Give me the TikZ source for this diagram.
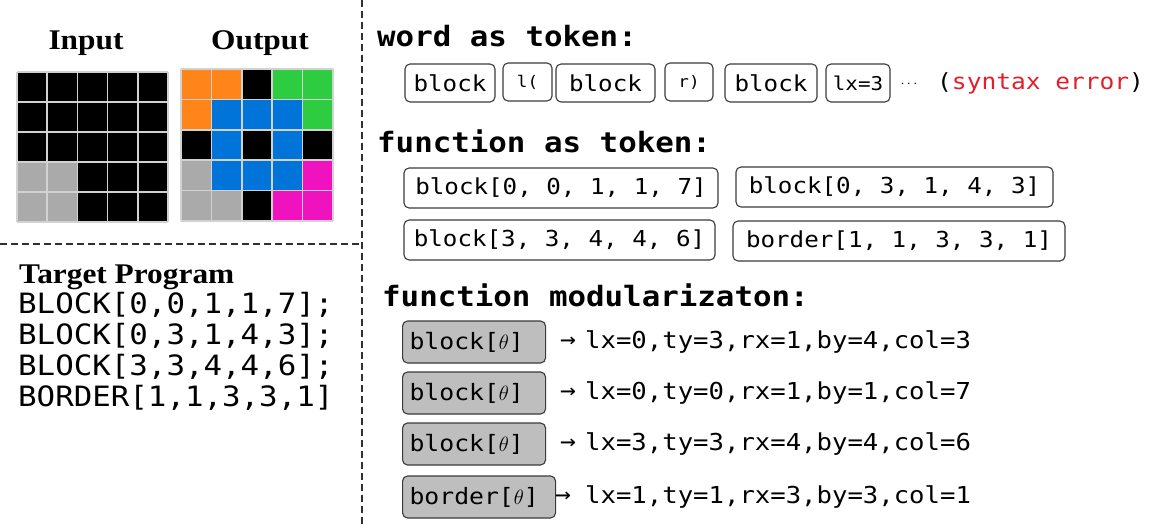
\documentclass[tikz,border=0pt]{standalone}
\usepackage{fontspec}
\setmainfont{Liberation Serif}[FakeStretch=1.1]
\newfontfamily\monof{DejaVu Sans Mono}[FakeStretch=1.1]
\definecolor{gK}{HTML}{000000}
\definecolor{gO}{HTML}{FF851B}
\definecolor{gB}{HTML}{0074D9}
\definecolor{gG}{HTML}{2ECC40}
\definecolor{gM}{HTML}{F012BE}
\definecolor{gY}{HTML}{AAAAAA}
\definecolor{gridc}{HTML}{D2D2D2}
\definecolor{boxc}{HTML}{3A3A3A}
\definecolor{modfill}{HTML}{BEBEBE}
\definecolor{errred}{HTML}{E0202A}
\definecolor{dashc}{HTML}{303030}
\begin{document}
\begin{tikzpicture}[x=1pt,y=-1pt,
  gl/.style={draw=gridc,line width=1.6pt},
  sep/.style={draw=dashc,line width=1.8pt,dash pattern=on 7pt off 4pt},
  ttl/.style={font=\bfseries\fontsize{28.5}{28.5}\selectfont},
  prog/.style={anchor=base west,inner sep=0pt,font=\monof\fontsize{28}{28}\selectfont},
  head/.style={anchor=base west,inner sep=0pt,font=\monof\bfseries\fontsize{28}{28}\selectfont},
  tok/.style={draw=boxc,line width=1.1pt,rounded corners=5pt,inner sep=0pt,minimum height=38pt,font=\monof\fontsize{22}{22}\selectfont},
  smalltok/.style={font=\monof\fontsize{16}{16}\selectfont},
  modbox/.style={draw=boxc,fill=modfill,line width=1.1pt,rounded corners=5pt,inner xsep=7pt,inner ysep=0pt,minimum height=42pt,align=left,anchor=west,font=\monof\fontsize{22.5}{22.5}\selectfont},
  arr/.style={anchor=west,inner sep=0pt,font=\monof\fontsize{24}{24}\selectfont},
  modtxt/.style={anchor=west,inner sep=0pt,font=\monof\fontsize{23.3}{23.3}\selectfont}]
\useasboundingbox (0,0) rectangle (1158,527);
% ---------- grids ----------
\foreach \c [count=\i from 0] in {gK,gK,gK,gK,gK, gK,gK,gK,gK,gK, gK,gK,gK,gK,gK, gY,gY,gK,gK,gK, gY,gY,gK,gK,gK}{
  \pgfmathtruncatemacro\cx{mod(\i,5)}
  \pgfmathtruncatemacro\cy{\i/5}
  \fill[\c] (17+\cx*30.2,72+\cy*30) rectangle ++(30.2,30);
}
\foreach \k in {0,...,5}{
  \draw[gl] (17+\k*30.2,72) -- (17+\k*30.2,222);
  \draw[gl] (17,72+\k*30) -- (168,72+\k*30);
}
\foreach \c [count=\i from 0] in {gO,gO,gK,gG,gG, gO,gB,gB,gB,gG, gK,gB,gK,gB,gK, gY,gB,gB,gB,gM, gY,gY,gK,gM,gM}{
  \pgfmathtruncatemacro\cx{mod(\i,5)}
  \pgfmathtruncatemacro\cy{\i/5}
  \fill[\c] (181+\cx*30.4,69+\cy*30.4) rectangle ++(30.4,30.4);
}
\foreach \k in {0,...,5}{
  \draw[gl] (181+\k*30.4,69) -- (181+\k*30.4,221);
  \draw[gl] (181,69+\k*30.4) -- (333,69+\k*30.4);
}
\node[ttl,anchor=base] (inp) at (86,50) {Input};
\node[ttl,anchor=base] (outp) at (260,50) {Output};
% ---------- separators ----------
\coordinate (vt) at (362,0);
\coordinate (vb) at (362,527);
\coordinate (hl) at (0,244);
\coordinate (hr) at (362,244);
\draw[sep] (vt) -- (vb);
\draw[sep] (hl) -- (hr);
% ---------- target program ----------
\node[ttl,anchor=base west,inner sep=0pt] (tp) at (19,283) {Target Program};
\node[prog] (p1) at (18,313) {BLOCK[0,0,1,1,7];};
\node[prog] (p2) at (18,344) {BLOCK[0,3,1,4,3];};
\node[prog] (p3) at (18,375) {BLOCK[3,3,4,4,6];};
\node[prog] (p4) at (18,406) {BORDER[1,1,3,3,1]};
% ---------- word as token ----------
\node[head] (h1) at (377,47) {word as token:};
\node[tok,minimum width=90pt] (w1) at (450,83) {block};
\node[tok,smalltok,minimum width=49pt] (w2) at (527.5,82) {l(};
\node[tok,minimum width=99pt] (w3) at (605.5,83) {block};
\node[tok,smalltok,minimum width=48pt] (w4) at (689,82) {r)};
\node[tok,minimum width=92pt] (w5) at (771,83) {block};
\node[tok,minimum width=64pt,font=\monof\fontsize{19}{19}\selectfont] (w6) at (858,83) {lx=3};
\node[inner sep=0pt] (dots) at (909,84) {\fontsize{15}{15}\selectfont$\cdots$};
\node[anchor=west,inner sep=0pt,font=\monof\fontsize{22.3}{22.3}\selectfont] (se) at (937,83) {(\textcolor{errred}{syntax error})};
% ---------- function as token ----------
\node[head] (h2) at (377,152) {function as token:};
\node[tok,minimum width=314pt,minimum height=40pt] (f1) at (561,188) {block[0, 0, 1, 1, 7]};
\node[tok,minimum width=317pt,minimum height=40pt] (f2) at (894.5,187) {block[0, 3, 1, 4, 3]};
\node[tok,minimum width=311pt,minimum height=40pt] (f3) at (559.5,240) {block[3, 3, 4, 4, 6]};
\node[tok,minimum width=332pt,minimum height=40pt] (f4) at (899,241) {border[1, 1, 3, 3, 1]};
% ---------- function modularization ----------
\node[head] (h3) at (382,306) {function modularizaton:};
\node[modbox,text width=129pt] (m1) at (402,342) {block[$\theta$]};
\node[modbox,text width=129pt] (m2) at (402,393) {block[$\theta$]};
\node[modbox,text width=129pt] (m3) at (402,444) {block[$\theta$]};
\node[modbox,text width=139pt] (m4) at (402,497) {border[$\theta$]};
\node[arr] (a1) at (560,342) {→};
\node[arr] (a2) at (560,393) {→};
\node[arr] (a3) at (560,444) {→};
\node[arr] (a4) at (555,497) {→};
\node[modtxt] (t1) at (585,342) {lx=0,ty=3,rx=1,by=4,col=3};
\node[modtxt] (t2) at (585,393) {lx=0,ty=0,rx=1,by=1,col=7};
\node[modtxt] (t3) at (585,444) {lx=3,ty=3,rx=4,by=4,col=6};
\node[modtxt] (t4) at (585,497) {lx=1,ty=1,rx=3,by=3,col=1};
\end{tikzpicture}
\end{document}
